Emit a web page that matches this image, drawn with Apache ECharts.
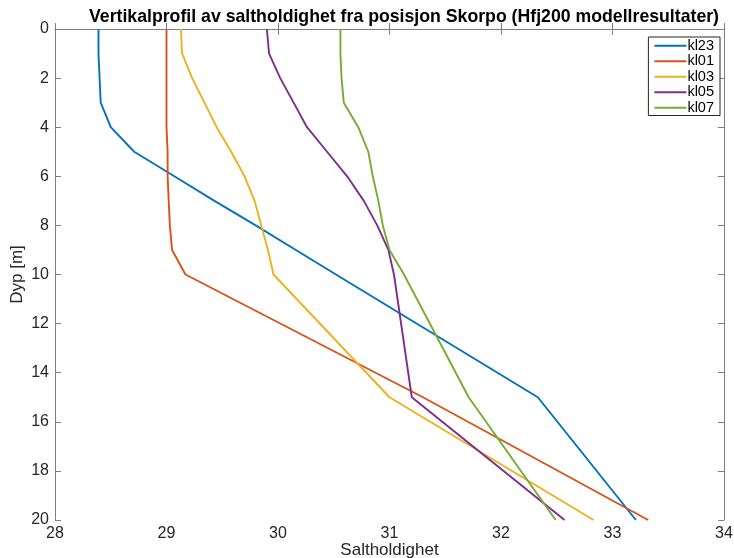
<!DOCTYPE html>
<html>
<head>
<meta charset="utf-8">
<script src="https://cdn.jsdelivr.net/npm/echarts@6/dist/echarts.min.js"></script>
<style>
html,body{margin:0;padding:0;background:#fff;}
#main{width:734px;height:558px;}
</style>
</head>
<body>
<div id="main"></div>
<script>
// dybdenivaa (m)
var depths = [0, 1, 2, 3, 4, 5, 6, 7, 8, 9, 10, 15, 20];
// saltholdighet per stasjon
var kl23 = [28.39, 28.39, 28.40, 28.41, 28.50, 28.71, 29.07, 29.43, 29.80, 30.16, 30.52, 32.33, 33.21];
var kl01 = [29.00, 29.00, 29.00, 29.00, 29.00, 29.01, 29.01, 29.02, 29.03, 29.05, 29.17, 31.30, 33.32];
var kl03 = [29.13, 29.14, 29.23, 29.34, 29.45, 29.58, 29.70, 29.79, 29.85, 29.91, 29.96, 31.00, 32.83];
var kl05 = [29.90, 29.92, 30.02, 30.14, 30.26, 30.44, 30.62, 30.77, 30.89, 30.99, 31.04, 31.20, 32.57];
var kl07 = [30.56, 30.56, 30.57, 30.59, 30.72, 30.81, 30.85, 30.90, 30.94, 31.00, 31.13, 31.71, 32.49];
var names = ['kl23', 'kl01', 'kl03', 'kl05', 'kl07'];
var colors = ['#0072BD', '#D95319', '#EDB120', '#7E2F8E', '#77AC30'];

function pairs(vals){
	var out = [];
	for(var i=0;i<vals.length;i++){
		out.push([vals[i], depths[i]]);
	}
	return out;
}

var allData = [kl23, kl01, kl03, kl05, kl07];
var series = [];
for(var k=0;k<names.length;k++){
	series.push({
		name: names[k],
		type: 'line',
		symbol: 'none',
		data: pairs(allData[k]),
		lineStyle: {width: 1.9, color: colors[k]},
		itemStyle: {color: colors[k]}
	});
}

var axisGrey = '#808080';
var txt = '#262626';
var fnt = 'Liberation Sans';

var myChart = echarts.init(document.getElementById('main'));
var option = {
	backgroundColor: '#fff',
	animation: false,
	title: {
		text: 'Vertikalprofil av saltholdighet fra posisjon Skorpo (Hfj200 modellresultater)',
		left: 399,
		textAlign: 'center',
		top: 3,
		textStyle: {fontFamily: fnt, fontSize: 17.7, fontWeight: 'bold', color: '#000'}
	},
	legend: {
		data: names,
		orient: 'vertical',
		right: 14,
		top: 37,
		padding: [1, 6, 0, 6],
		itemGap: 0,
		itemWidth: 32,
		itemHeight: 2,
		icon: 'rect',
		borderColor: txt,
		borderWidth: 1,
		backgroundColor: '#fff',
		textStyle: {fontFamily: fnt, fontSize: 14.5, color: '#000', padding: [0, 0, 0, -4], lineHeight: 15.5}
	},
	grid: {left: 55, right: 10, top: 29, bottom: 38, outerBoundsMode: 'none', containLabel: false},
	xAxis: [{
		type: 'value',
		min: 28, max: 34, interval: 1,
		name: 'Saltholdighet',
		nameLocation: 'middle',
		nameGap: 22,
		nameMoveOverlap: false,
		nameTextStyle: {fontFamily: fnt, fontSize: 17, color: txt},
		axisLine: {show: true, lineStyle: {color: axisGrey}},
		axisTick: {show: true, inside: true, length: 6, lineStyle: {color: axisGrey}},
		axisLabel: {fontFamily: fnt, fontSize: 16, color: txt, margin: 6},
		splitLine: {show: false}
	}, {
		type: 'value',
		position: 'top',
		min: 28, max: 34, interval: 1,
		axisLine: {show: true, lineStyle: {color: axisGrey}},
		axisTick: {show: true, inside: true, length: 6, lineStyle: {color: axisGrey}},
		axisLabel: {show: false},
		splitLine: {show: false}
	}],
	yAxis: [{
		type: 'value',
		inverse: true,
		min: 0, max: 20, interval: 2,
		name: 'Dyp [m]',
		nameLocation: 'middle',
		nameGap: 29,
		nameMoveOverlap: false,
		nameTextStyle: {fontFamily: fnt, fontSize: 17, color: txt},
		axisLine: {show: true, lineStyle: {color: axisGrey}},
		axisTick: {show: true, inside: true, length: 6, lineStyle: {color: axisGrey}},
		axisLabel: {fontFamily: fnt, fontSize: 16, color: txt, margin: 6},
		splitLine: {show: false}
	}, {
		type: 'value',
		inverse: true,
		position: 'right',
		min: 0, max: 20, interval: 2,
		axisLine: {show: true, lineStyle: {color: axisGrey}},
		axisTick: {show: true, inside: true, length: 6, lineStyle: {color: axisGrey}},
		axisLabel: {show: false},
		splitLine: {show: false}
	}],
	series: series
};
myChart.setOption(option);
</script>
</body>
</html>
